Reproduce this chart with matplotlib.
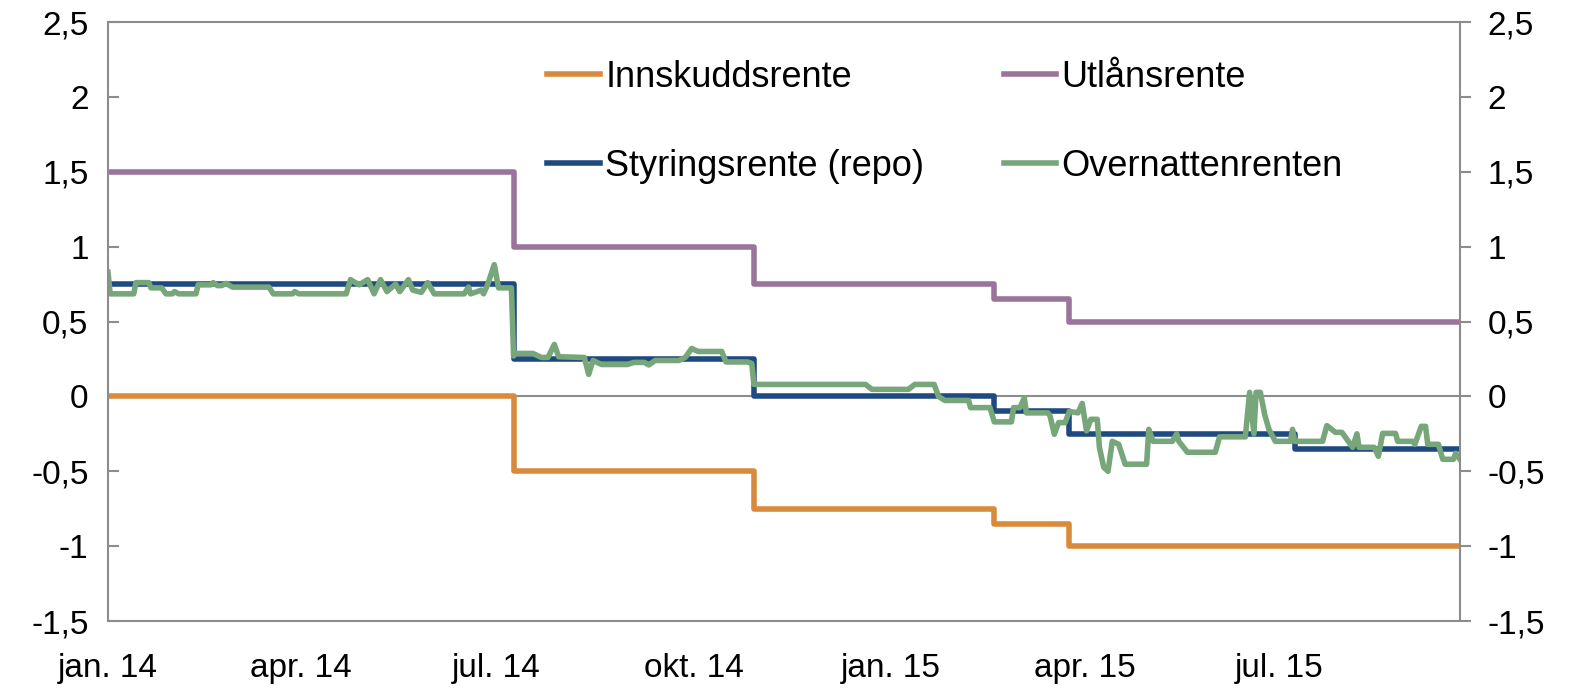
import matplotlib
matplotlib.use("Agg")
import matplotlib.pyplot as plt
import pandas as pd

plt.rcParams['font.family'] = ['Liberation Sans', 'DejaVu Sans']

# policy rate corridor (change dates and levels)
rate_dates = ['2014-01-01', '2014-07-09', '2014-10-29', '2015-02-18',
              '2015-03-25', '2015-07-08', '2015-09-23']
repo = [0.75, 0.25, 0.0, -0.10, -0.25, -0.35, -0.35]
deposit = [0.0, -0.5, -0.75, -0.85, -1.0, -1.0, -1.0]
lending = [1.5, 1.0, 0.75, 0.65, 0.5, 0.5, 0.5]

# overnight rate
on_dates = [
    '2014-01-01', '2014-01-02', '2014-01-13', '2014-01-14', '2014-01-20', '2014-01-21',
    '2014-01-26', '2014-01-28', '2014-01-31', '2014-02-01', '2014-02-03', '2014-02-11',
    '2014-02-12', '2014-02-18', '2014-02-19', '2014-02-21', '2014-02-23', '2014-02-25',
    '2014-02-28', '2014-03-17', '2014-03-19', '2014-03-28', '2014-03-29', '2014-03-31',
    '2014-04-22', '2014-04-24', '2014-04-28', '2014-05-02', '2014-05-05', '2014-05-08',
    '2014-05-11', '2014-05-15', '2014-05-17', '2014-05-21', '2014-05-23', '2014-05-27',
    '2014-05-30', '2014-06-02', '2014-06-16', '2014-06-18', '2014-06-19', '2014-06-24',
    '2014-06-25', '2014-06-27', '2014-06-30', '2014-07-02', '2014-07-08', '2014-07-09',
    '2014-07-10', '2014-07-18', '2014-07-22', '2014-07-25', '2014-07-28', '2014-07-30',
    '2014-08-11', '2014-08-13', '2014-08-15', '2014-08-19', '2014-08-31', '2014-09-03',
    '2014-09-08', '2014-09-10', '2014-09-13', '2014-09-24', '2014-09-27', '2014-09-30',
    '2014-10-03', '2014-10-14', '2014-10-16', '2014-10-26', '2014-10-28', '2014-10-29',
    '2014-12-20', '2014-12-23', '2015-01-09', '2015-01-12', '2015-01-21', '2015-01-23',
    '2015-01-26', '2015-02-06', '2015-02-07', '2015-02-16', '2015-02-18', '2015-02-26',
    '2015-02-27', '2015-03-02', '2015-03-04', '2015-03-05', '2015-03-15', '2015-03-16',
    '2015-03-18', '2015-03-20', '2015-03-23', '2015-03-25', '2015-03-29', '2015-03-31',
    '2015-04-02', '2015-04-04', '2015-04-07', '2015-04-08', '2015-04-10', '2015-04-12',
    '2015-04-14', '2015-04-17', '2015-04-20', '2015-04-30', '2015-05-01', '2015-05-03',
    '2015-05-12', '2015-05-14', '2015-05-15', '2015-05-19', '2015-06-01', '2015-06-03',
    '2015-06-15', '2015-06-17', '2015-06-19', '2015-06-20', '2015-06-22', '2015-06-24',
    '2015-06-26', '2015-06-29', '2015-07-06', '2015-07-07', '2015-07-08', '2015-07-21',
    '2015-07-23', '2015-07-27', '2015-07-30', '2015-08-01', '2015-08-04', '2015-08-06',
    '2015-08-07', '2015-08-14', '2015-08-16', '2015-08-18', '2015-08-24', '2015-08-25',
    '2015-09-01', '2015-09-02', '2015-09-05', '2015-09-07', '2015-09-08', '2015-09-13',
    '2015-09-15', '2015-09-20', '2015-09-21', '2015-09-23']
on_values = [
    0.83, 0.685, 0.685, 0.76, 0.76, 0.725,
    0.725, 0.685, 0.685, 0.70, 0.685, 0.685,
    0.745, 0.745, 0.76, 0.74, 0.74, 0.755,
    0.73, 0.73, 0.685, 0.685, 0.70, 0.685,
    0.685, 0.78, 0.745, 0.78, 0.685, 0.78,
    0.70, 0.75, 0.70, 0.78, 0.71, 0.695,
    0.76, 0.685, 0.685, 0.73, 0.685, 0.71,
    0.685, 0.75, 0.88, 0.725, 0.725, 0.27,
    0.287, 0.287, 0.26, 0.26, 0.347, 0.265,
    0.26, 0.147, 0.24, 0.213, 0.213, 0.227,
    0.227, 0.21, 0.24, 0.24, 0.26, 0.32,
    0.30, 0.30, 0.23, 0.23, 0.22, 0.08,
    0.08, 0.047, 0.047, 0.08, 0.08, 0.0,
    -0.027, -0.027, -0.075, -0.075, -0.17, -0.17,
    -0.075, -0.075, -0.01, -0.11, -0.11, -0.13,
    -0.253, -0.175, -0.175, -0.10, -0.11, -0.047,
    -0.23, -0.153, -0.153, -0.34, -0.473, -0.50,
    -0.30, -0.32, -0.453, -0.453, -0.22, -0.30,
    -0.30, -0.25, -0.30, -0.373, -0.373, -0.27,
    -0.27, 0.027, -0.25, 0.027, 0.027, -0.12,
    -0.22, -0.30, -0.30, -0.22, -0.30, -0.30,
    -0.195, -0.24, -0.24, -0.28, -0.34, -0.25,
    -0.34, -0.34, -0.40, -0.247, -0.247, -0.30,
    -0.30, -0.32, -0.20, -0.20, -0.32, -0.32,
    -0.42, -0.42, -0.38, -0.42]

tick_dates = ['2014-01-01', '2014-04-01', '2014-07-01', '2014-10-01',
              '2015-01-01', '2015-04-01', '2015-07-01']
tick_labels = ['jan. 14', 'apr. 14', 'jul. 14', 'okt. 14', 'jan. 15', 'apr. 15', 'jul. 15']
y_ticks = [-1.5, -1, -0.5, 0, 0.5, 1, 1.5, 2, 2.5]
y_labels = ['-1,5', '-1', '-0,5', '0', '0,5', '1', '1,5', '2', '2,5']

c_dep = '#D88B3C'
c_lend = '#9B7499'
c_repo = '#1F4A80'
c_on = '#76A679'
grey = '#8C8C8C'

rd = pd.to_datetime(rate_dates)
od = pd.to_datetime(on_dates)

fig = plt.figure(figsize=(15.72, 6.9), dpi=100)
ax = fig.add_axes([0.0687, 0.1, 0.86, 0.868])

lw = 4.0
l_dep, = ax.plot(rd, deposit, drawstyle='steps-post', color=c_dep, lw=lw, label='Innskuddsrente')
l_lend, = ax.plot(rd, lending, drawstyle='steps-post', color=c_lend, lw=lw, label='Utlånsrente')
l_repo, = ax.plot(rd, repo, drawstyle='steps-post', color=c_repo, lw=lw, label='Styringsrente (repo)')
l_on, = ax.plot(od, on_values, color=c_on, lw=lw, label='Overnattenrenten',
                solid_joinstyle='round')

ax.axhline(0, color=grey, lw=1.5, zorder=0.5)

ax.set_xlim(pd.Timestamp('2014-01-01'), pd.Timestamp('2015-09-23'))
ax.set_ylim(-1.5, 2.5)

ax.set_xticks(pd.to_datetime(tick_dates))
ax.set_xticklabels(tick_labels)
ax.set_yticks(y_ticks)
ax.set_yticklabels(y_labels)

for s in ax.spines.values():
    s.set_color(grey)
    s.set_linewidth(1.5)

ax.tick_params(axis='x', length=0, pad=23, labelsize=24)
ax.tick_params(axis='y', direction='in', length=8, width=1.5, color=grey,
               pad=14, labelsize=24)

ax2 = ax.twinx()
ax2.set_ylim(-1.5, 2.5)
ax2.set_yticks(y_ticks)
ax2.set_yticklabels(y_labels)
ax2.tick_params(axis='y', direction='out', length=8, width=1.5, color=grey,
                pad=12, labelsize=24)
for s in ax2.spines.values():
    s.set_visible(False)

leg = ax.legend(handles=[l_dep, l_repo, l_lend, l_on], ncol=2, frameon=False,
                loc='upper left', bbox_to_anchor=(0.325, 0.937), borderaxespad=0,
                borderpad=0, fontsize=26, handlelength=1.45, handletextpad=0.15,
                columnspacing=2.2, labelspacing=1.5)

fig.savefig('out.png', dpi=100)
